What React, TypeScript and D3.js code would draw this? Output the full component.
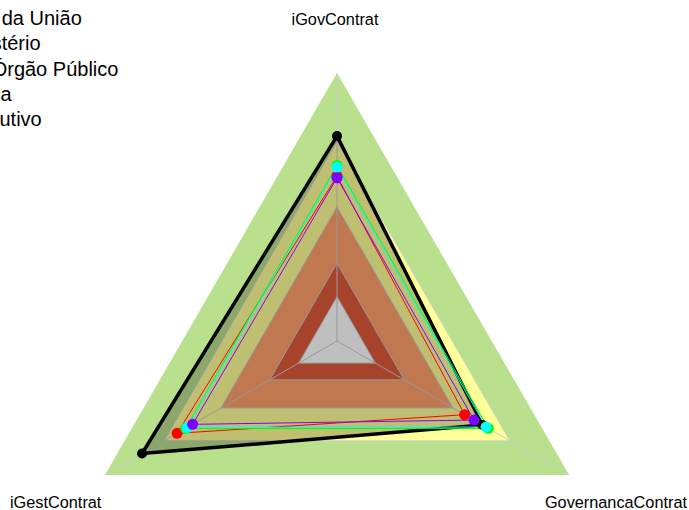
import React from "react";
import * as d3 from "d3";

const axes = ["iGovContrat", "GovernancaContrat", "iGestContrat"];
const bandLevels = [1.0, 0.745, 0.5, 0.29, 0.165];
const bandColors = ["#B9E08C", "#FFFF99", "#FFA06B", "#E05A3A", "#FFFFFF"];

const seriesNames = ["Ente da União", "Ministério", "Um Órgão Público", "Banca", "Executivo"];
const seriesColors = ["#000000", "#FF0000", "#00FF00", "#00FFFF", "#8000FF"];
const blackValues = [0.765, 0.627, 0.84];
const redValues = [0.615, 0.55, 0.689];
const limeValues = [0.655, 0.652, 0.652];
const cyanValues = [0.648, 0.642, 0.646];
const purpleValues = [0.609, 0.59, 0.622];
const seriesValues = [blackValues, redValues, limeValues, cyanValues, purpleValues];

const W = 689;
const H = 510;
const cx = 337;
const cy = 341;
const R = 268;

export default function App() {
  const r = d3.scaleLinear().domain([0, 1]).range([0, R]);
  const angle = d3
    .scaleLinear()
    .domain([0, axes.length])
    .range([0, 2 * Math.PI]);
  const pt = (i: number, v: number): [number, number] => {
    const a = angle(i) - Math.PI / 2;
    return [cx + r(v) * Math.cos(a), cy + r(v) * Math.sin(a)];
  };
  const line = d3.line<[number, number]>().curve(d3.curveLinearClosed);
  const poly = (vals: number[]) => line(vals.map((v, i) => pt(i, v))) as string;

  return (
    <svg
      width={W}
      height={H}
      style={{ position: "absolute", left: 0, top: 0 }}
      fontFamily="'Liberation Sans', Arial, sans-serif"
    >
      <rect width={W} height={H} fill="#ffffff" />
      {bandLevels.map((lv, k) => (
        <path
          key={"b" + k}
          d={poly(axes.map(() => lv))}
          fill={bandColors[k]}
          stroke={k === 0 ? "none" : "#cccccc"}
          strokeWidth={1}
        />
      ))}
      {axes.map((_, i) => {
        const [x, y] = pt(i, 1);
        return <line key={"s" + i} x1={cx} y1={cy} x2={x} y2={y} stroke="#cccccc" strokeWidth={1} />;
      })}
      <path d={poly(seriesValues[0])} fill="#000000" fillOpacity={0.25} stroke="none" />
      {seriesValues.map((vals, s) => (
        <path
          key={"p" + s}
          d={poly(vals)}
          fill="none"
          stroke={seriesColors[s]}
          strokeWidth={s === 0 ? 3.5 : 1}
          strokeLinejoin="miter"
        />
      ))}
      {seriesValues.map((vals, s) =>
        vals.map((v, i) => {
          const [x, y] = pt(i, v);
          return <circle key={"c" + s + "-" + i} cx={x} cy={y} r={s === 0 ? 5 : 5.5} fill={seriesColors[s]} />;
        })
      )}
      <text x={335} y={25} fontSize={16.3} textAnchor="middle" fill="#000">
        {axes[0]}
      </text>
      <text x={687} y={508} fontSize={16.3} textAnchor="end" fill="#000">
        {axes[1]}
      </text>
      <text x={10} y={508} fontSize={16.3} textAnchor="start" fill="#000">
        {axes[2]}
      </text>
      {seriesNames.map((n, k) => (
        <text key={"l" + k} x={-45} y={25 + k * 25.25} fontSize={20} fill="#000">
          {n}
        </text>
      ))}
    </svg>
  );
}
